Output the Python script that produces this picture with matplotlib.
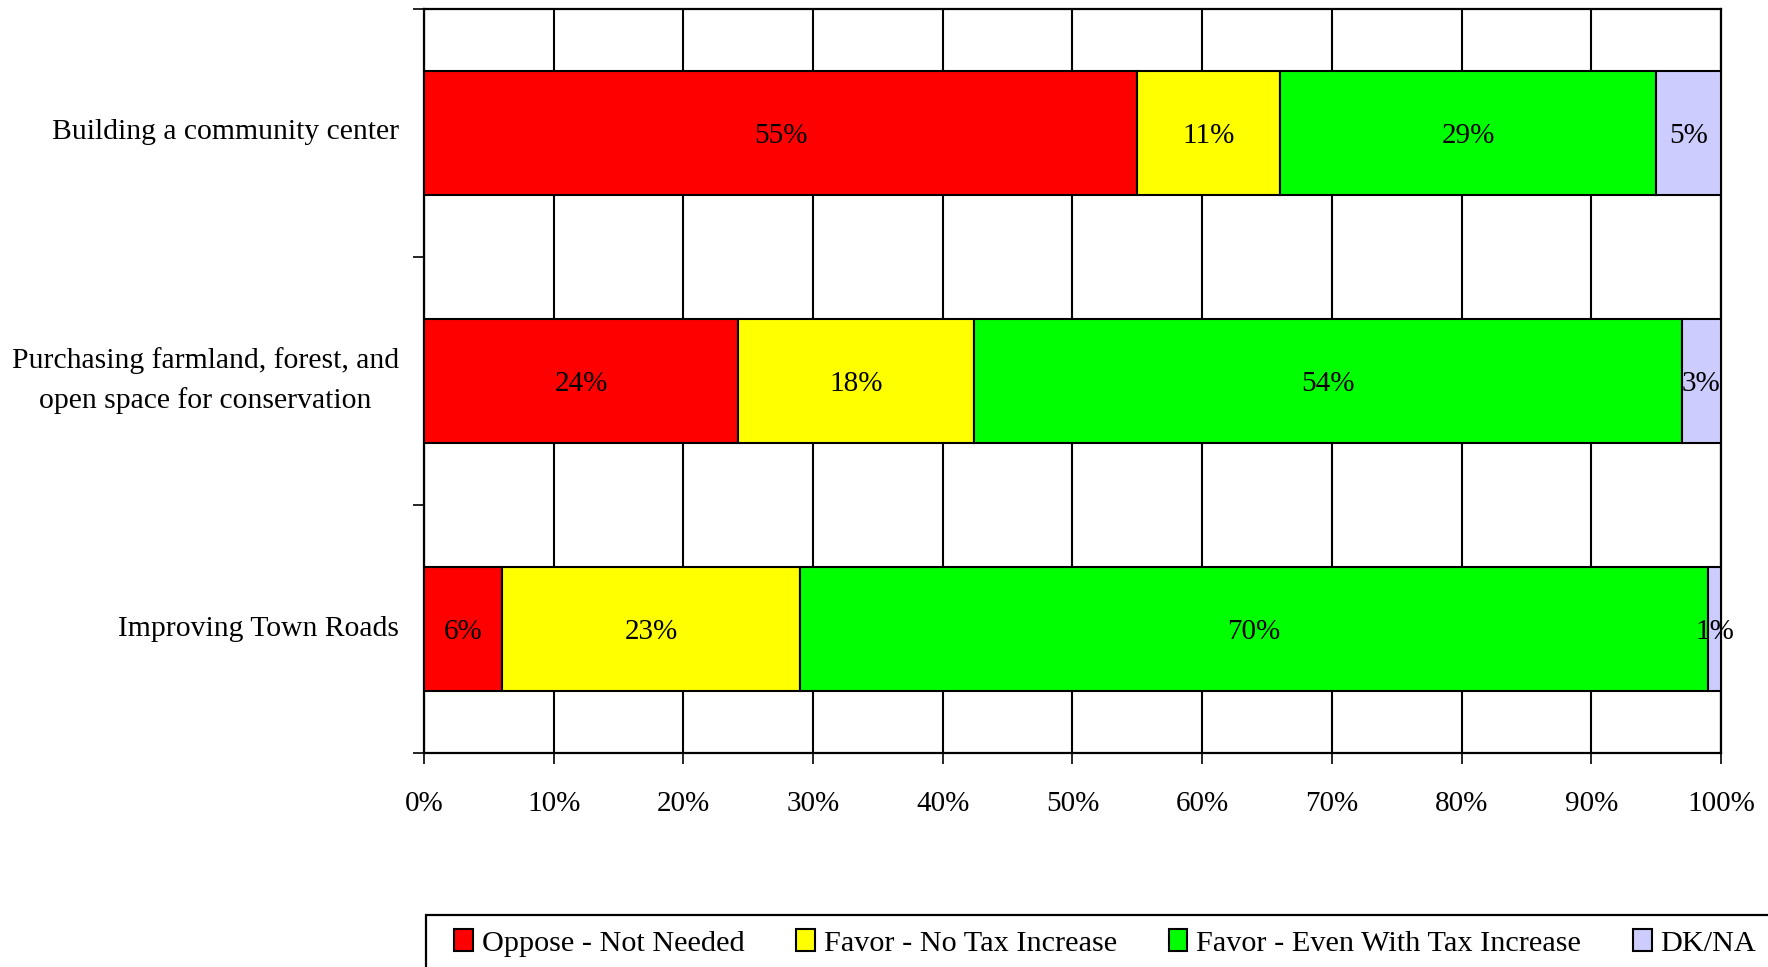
import matplotlib.pyplot as plt
import matplotlib.transforms as mtransforms
from matplotlib.patches import Rectangle
import numpy as np

# survey responses, top row first (percent of respondents)
questions = [
    "Building a community center",
    "Purchasing farmland, forest, and\nopen space for conservation",
    "Improving Town Roads",
]
responses = [
    "Oppose - Not Needed",
    "Favor - No Tax Increase",
    "Favor - Even With Tax Increase",
    "DK/NA",
]
oppose = [55, 24, 6]
favor_no_tax = [11, 18, 23]
favor_with_tax = [29, 54, 70]
dk_na = [5, 3, 1]
colors = ["#ff0000", "#ffff00", "#00ff00", "#ccccff"]
x_ticks = np.arange(0, 101, 10)

plt.rcParams["font.family"] = ["Liberation Serif", "DejaVu Serif"]
FS = 21

fig = plt.figure(figsize=(17.68, 9.67), dpi=100)
ax = fig.add_axes([0.2398, 0.2213, 0.9734 - 0.2398, 0.9907 - 0.2213])

series = np.array([oppose, favor_no_tax, favor_with_tax, dk_na], dtype=float)
# 100% stacked: each row is scaled to its own total
shares = series / series.sum(axis=0) * 100
ypos = np.arange(len(questions)) + 0.5

left = np.zeros(len(questions))
for name, raw, share, color in zip(responses, series, shares, colors):
    ax.barh(ypos, share, left=left, height=0.5, color=color,
            edgecolor="black", linewidth=1.5, label=name, zorder=3)
    for y, l, w, v in zip(ypos, left, share, raw):
        ax.text(l + w / 2, y, f"{v:.0f}%", ha="center", va="center_baseline",
                fontsize=FS, zorder=4)
    left += share

ax.set_xlim(0, 100)
ax.set_ylim(len(questions), 0)
ax.set_xticks(x_ticks)
ax.set_xticklabels([f"{t}%" for t in x_ticks], fontsize=FS)
ax.xaxis.grid(True, color="black", linewidth=1.5, zorder=0)
ax.set_axisbelow(True)

# ticks only on the boundaries between categories
ax.set_yticks(np.arange(len(questions) + 1))
ax.set_yticklabels([])
ax.tick_params(axis="both", which="major", direction="out", length=8,
               width=1.2, color="black")
ax.tick_params(axis="x", pad=19)
for spine in ax.spines.values():
    spine.set_linewidth(1.6)
    spine.set_color("black")

# category names, placed left of the axis
shift = mtransforms.ScaledTranslation(-25 / 100, 0.5 / 100, fig.dpi_scale_trans)
for y, q in zip(ypos, questions):
    ax.text(0, y, q, transform=ax.get_yaxis_transform() + shift,
            ha="right", va="center", multialignment="center",
            linespacing=1.65, fontsize=21.3)

# legend box runs off the right and bottom edges of the figure
fig.add_artist(Rectangle((426 / 1768, -0.2), 1.0, 0.2 + 1 - 915 / 967,
                         transform=fig.transFigure, fill=False,
                         edgecolor="black", linewidth=1.6))
fig.legend(loc="center left", bbox_to_anchor=(454 / 1768, 1 - 943 / 967),
           ncol=4, fontsize=21.8, frameon=False,
           handlelength=0.62, handleheight=0.7, handletextpad=0.3,
           columnspacing=1.7, borderpad=0, borderaxespad=0)

fig.savefig("out.png", dpi=100)
